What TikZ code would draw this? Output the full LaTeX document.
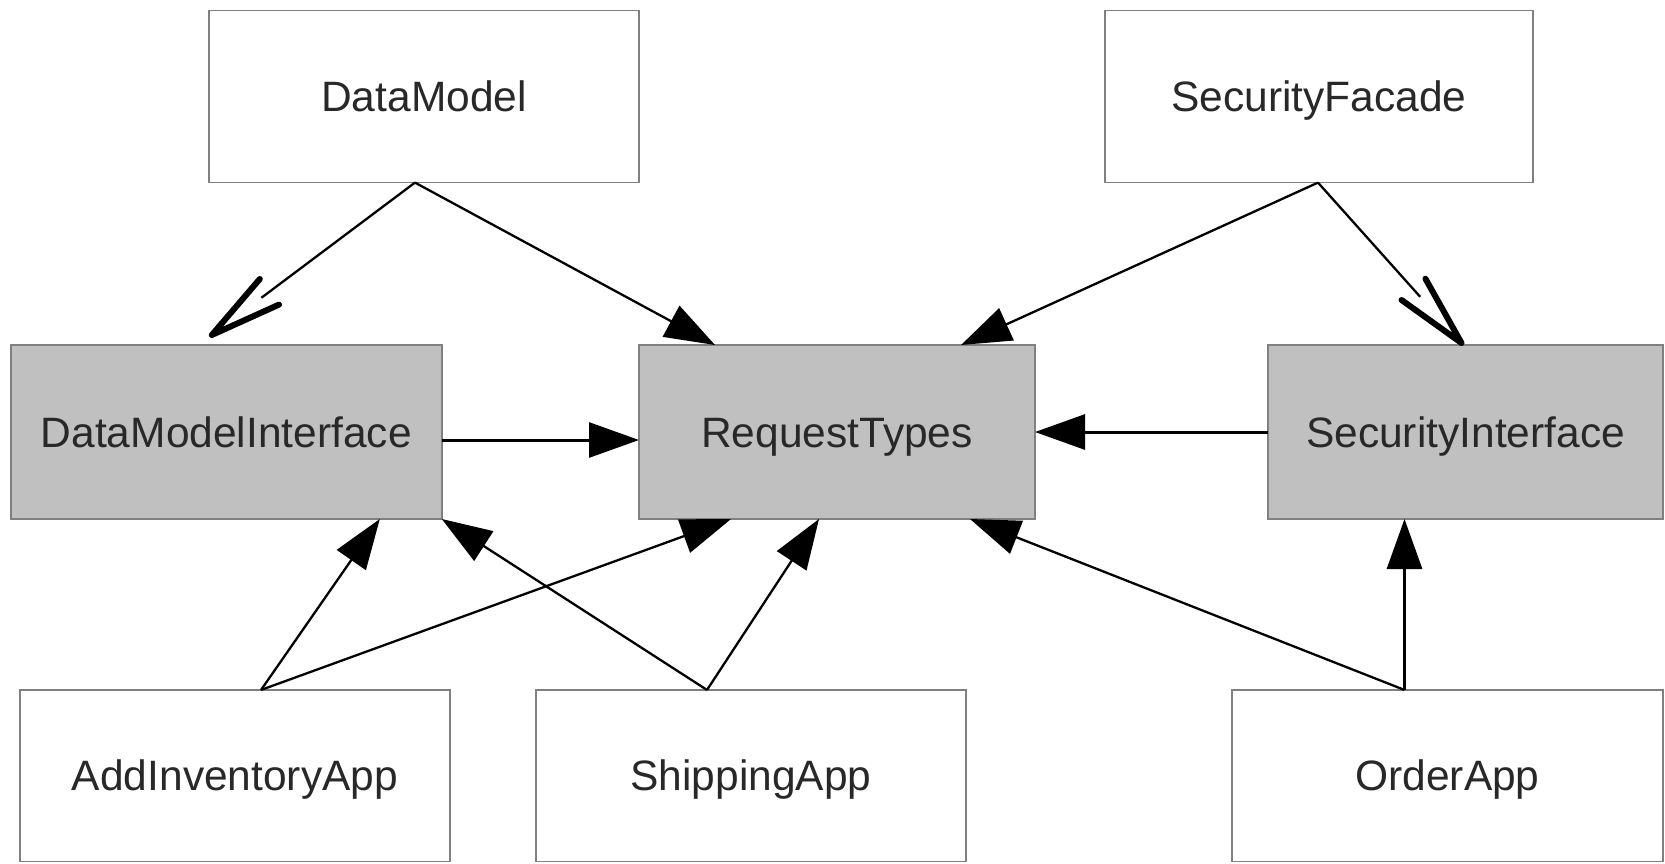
\documentclass[tikz,border=0pt]{standalone}
\usepackage{fontspec}
\setmainfont{Liberation Sans}
\usetikzlibrary{arrows.meta,calc}
\definecolor{boxgray}{HTML}{C0C0C0}
\definecolor{edgegray}{HTML}{808080}
\definecolor{txt}{HTML}{282828}
\begin{document}
\begin{tikzpicture}[x=1pt,y=-1pt,
  box/.style={draw=edgegray,line width=1.5pt,fill=white,inner sep=0pt,outer sep=0pt,
    text=txt,font=\fontsize{42.5}{50}\selectfont,text height=30pt,text depth=0pt},
  graybox/.style={box,fill=boxgray},
  conn/.style={line width=2.3pt,-{Triangle[length=50pt,width=35pt]}},
  straightconn/.style={conn,line width=3pt},
  thinline/.style={line width=2.3pt},
  veeline/.style={line width=6pt,line cap=round,line join=round}]
\useasboundingbox (0,0) rectangle (1665,863);
% nodes
\node[box,minimum width=430pt,minimum height=172pt] (dm) at (424,96.6) {DataModel};
\node[box,minimum width=428pt,minimum height=172pt] (sf) at (1319,96.6) {SecurityFacade};
\node[graybox,minimum width=431pt,minimum height=174pt] (dmi) at (226.3,432) {DataModelInterface};
\node[graybox,minimum width=396pt,minimum height=174pt] (rt) at (837,432) {RequestTypes};
\node[graybox,minimum width=395pt,minimum height=174pt] (si) at (1465.5,432) {SecurityInterface};
\node[box,minimum width=430pt,minimum height=171.5pt] (aia) at (235,775.7) {AddInventoryApp};
\node[box,minimum width=430pt,minimum height=171.5pt] (sa) at (751,775.7) {ShippingApp};
\node[box,minimum width=431pt,minimum height=171.5pt] (oa) at (1447.5,775.7) {OrderApp};
% start points
\coordinate (s1) at ($(dm.south)+(-9,0)$);
\coordinate (s2) at ($(sf.south)+(-1,0)$);
\coordinate (s3) at ($(aia.north)+(26,0)$);
\coordinate (s4) at ($(sa.north)+(-44,0)$);
\coordinate (s5) at ($(oa.north)+(-43,0)$);
% open (vee) arrows
\coordinate (t1) at ($(dmi.north west)+(201,-10)$);
\draw[thinline] (s1) -- ($(t1)!62pt!(s1)$);
\coordinate (b1) at ($(t1)!72pt!(s1)$);
\draw[veeline] ($(b1)!16pt!90:(t1)$) -- (t1) -- ($(b1)!16pt!-90:(t1)$);
\coordinate (t2) at ($(si.north west)+(193.5,-2)$);
\draw[thinline] (s2) -- ($(t2)!62pt!(s2)$);
\coordinate (b2) at ($(t2)!72pt!(s2)$);
\draw[veeline] ($(b2)!16pt!90:(t2)$) -- (t2) -- ($(b2)!16pt!-90:(t2)$);
% filled arrows
\draw[conn] (s1) -- ($(rt.north west)+(76,0)$);
\draw[conn] (s2) -- ($(rt.north east)+(-74,0)$);
\draw[straightconn] ($(dmi.east)+(0,8)$) -- ($(rt.west)+(0,8)$);
\draw[straightconn] (si.west) -- (rt.east);
\draw[conn] (s3) -- ($(dmi.south west)+(369,0)$);
\draw[conn] (s3) -- ($(rt.south west)+(92,0)$);
\draw[conn] (s4) -- (dmi.south east);
\draw[conn] (s4) -- ($(rt.south west)+(180,0)$);
\draw[conn] (s5) -- ($(rt.south east)+(-65,0)$);
\draw[straightconn] (s5) -- ($(si.south)+(-61,0)$);
\end{tikzpicture}
\end{document}
